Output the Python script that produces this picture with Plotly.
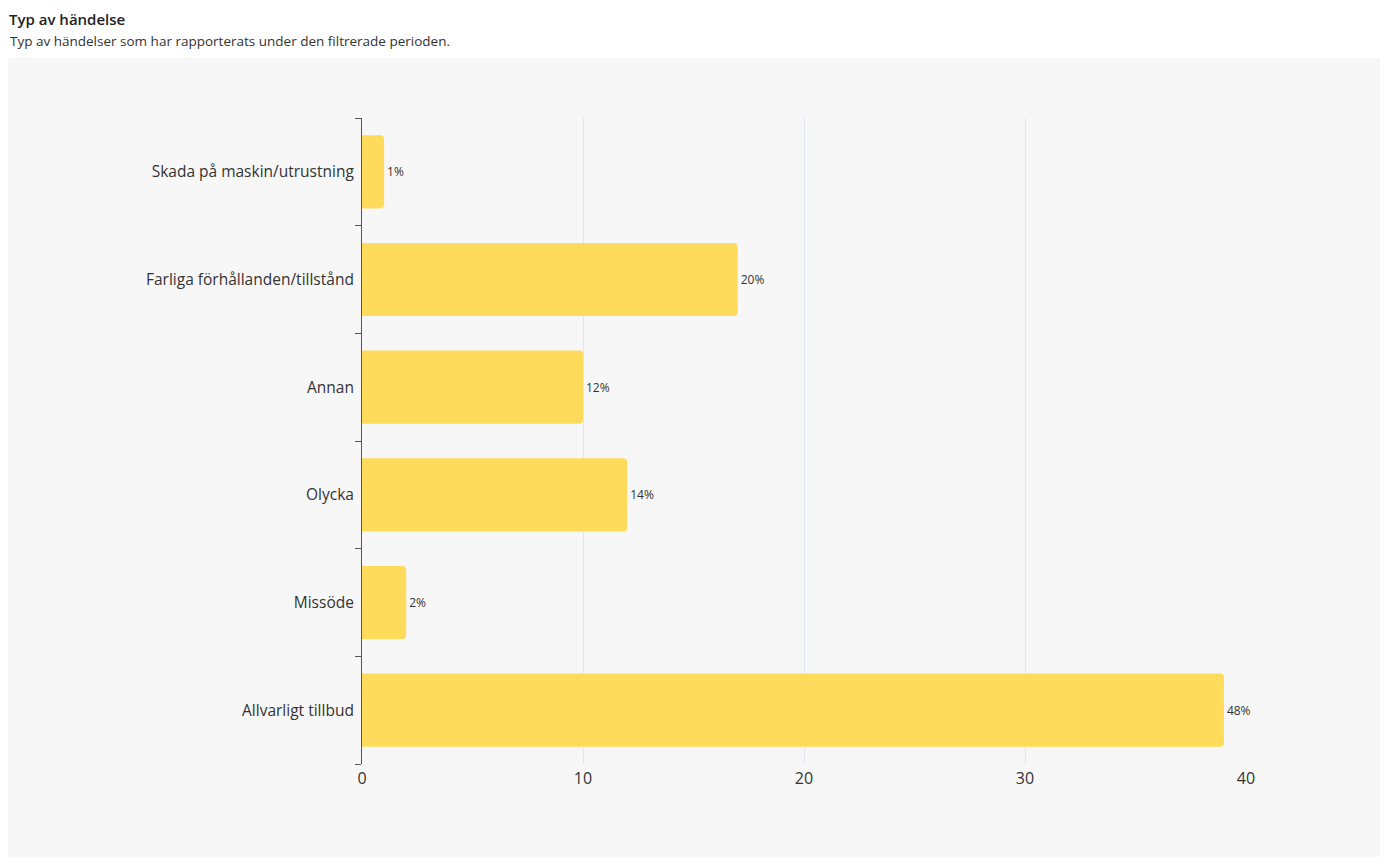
import plotly.graph_objects as go

# page has an 8px body margin, so the figure is drawn from (8, 8)
W, H = 1380, 857
L, R, T, B = 354, 142, 110, 101

categories = [
    "Skada på maskin/utrustning",
    "Farliga förhållanden/tillstånd",
    "Annan",
    "Olycka",
    "Missöde",
    "Allvarligt tillbud",
]
counts = [1, 17, 10, 12, 2, 39]
pct_labels = ["1%", "20%", "12%", "14%", "2%", "48%"]
x_ticks = [0, 10, 20, 30, 40]

FONT = "'Open Sans', Lato, sans-serif"
pw, ph = W - L - R, H - T - B


def px_x(x):
    return (x - L) / pw


def px_y(y):
    return (H - B - y) / ph


fig = go.Figure(
    go.Bar(
        x=counts,
        y=categories,
        orientation="h",
        width=0.68,
        marker=dict(color="#FFDB5C", line=dict(width=0)),
        text=pct_labels,
        textposition="outside",
        textfont=dict(size=12, color="#333333", family=FONT),
        cliponaxis=False,
        hoverinfo="x+y",
    )
)

fig.update_xaxes(
    range=[0, 40],
    tickvals=x_ticks,
    showgrid=True,
    gridcolor="#e1e5f2",
    gridwidth=1,
    zeroline=False,
    showline=False,
    ticks="",
    ticklabelstandoff=3,
    tickfont=dict(size=16, color="#333333", family=FONT),
)

fig.update_yaxes(
    categoryorder="array",
    categoryarray=categories[::-1],
    range=[-0.5, 5.5],
    showline=True,
    linecolor="#555555",
    linewidth=1,
    ticks="outside",
    tickson="boundaries",
    ticklen=6,
    tickcolor="#555555",
    showgrid=False,
    ticklabelstandoff=4,
    tickfont=dict(size=15.5, color="#333333", family=FONT),
)

fig.add_shape(
    type="rect",
    xref="paper", yref="paper",
    x0=px_x(0), x1=px_x(1376), y0=px_y(849), y1=px_y(50),
    fillcolor="#f7f7f7",
    line=dict(width=0),
    layer="below",
)

fig.add_annotation(
    text="Typ av händelse",
    xref="paper", yref="paper",
    x=px_x(0), y=px_y(0),
    xanchor="left", yanchor="top",
    borderpad=0,
    showarrow=False,
    font=dict(size=15, color="#222222", family=FONT, weight=600),
)
fig.add_annotation(
    text="Typ av händelser som har rapporterats under den filtrerade perioden.",
    xref="paper", yref="paper",
    x=px_x(0), y=px_y(33),
    xanchor="left", yanchor="middle",
    showarrow=False,
    font=dict(size=13.5, color="#333333", family=FONT),
)

fig.update_layout(
    width=W,
    height=H,
    margin=dict(l=L, r=R, t=T, b=B, pad=0),
    paper_bgcolor="white",
    plot_bgcolor="rgba(0,0,0,0)",
    barcornerradius=4,
    showlegend=False,
    font=dict(family=FONT),
)

fig.write_html("out.html")
